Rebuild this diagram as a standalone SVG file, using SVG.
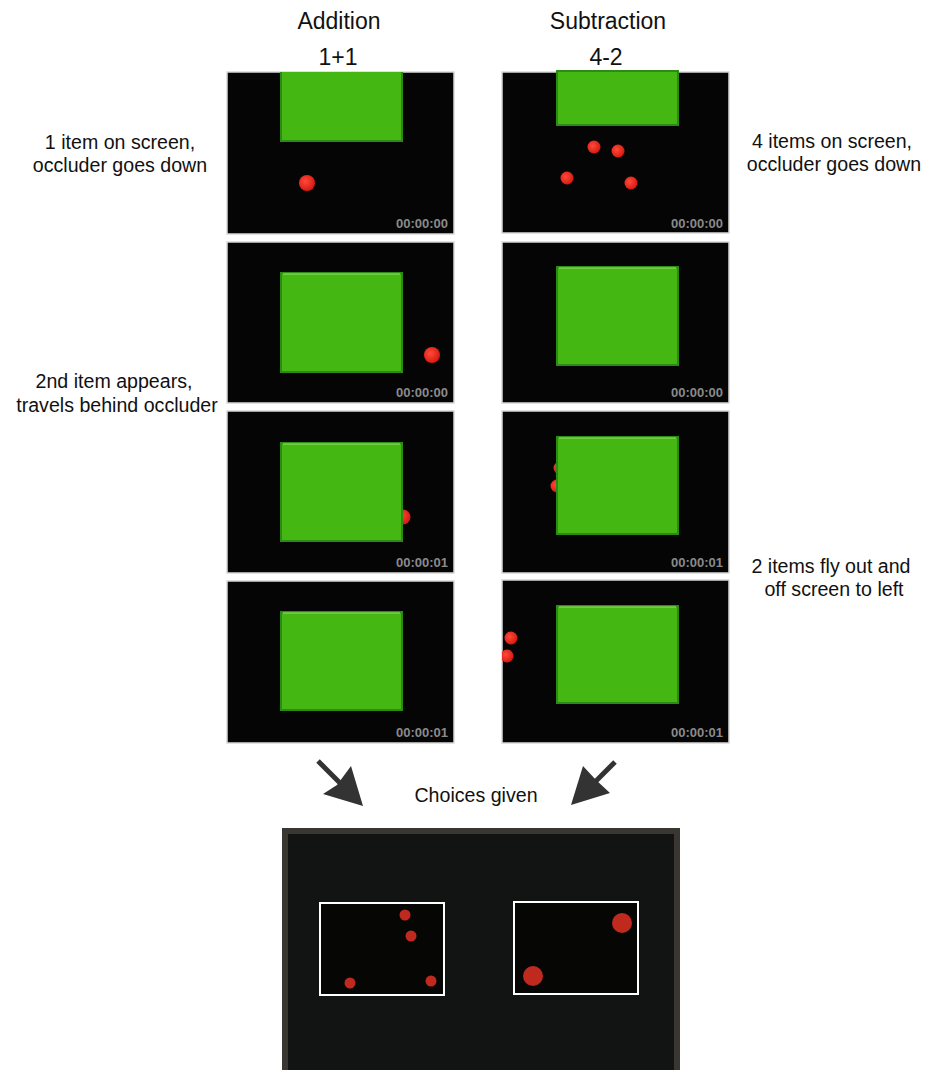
<svg xmlns="http://www.w3.org/2000/svg" width="936" height="1070" viewBox="0 0 936 1070">
  <defs>
    <style>
      .lbl { font-family: "Liberation Sans", Arial, sans-serif; font-size: 19.6px; fill: #111; text-anchor: middle; }
      .head { font-family: "Liberation Sans", Arial, sans-serif; font-size: 23px; fill: #111; text-anchor: middle; }
      .frame { fill: #050505; stroke: #d8d8d8; stroke-width: 1.5; }
      .occ { fill: #44b712; stroke: #2c8a16; stroke-width: 2; }
      .occtop { stroke: #7fd04c; stroke-width: 1.5; }
      .ts { font-family: "Liberation Sans", Arial, sans-serif; font-size: 13px; font-weight: bold; fill: #8a8a8a; text-anchor: end; }
      .pick { fill: #c02a1e; }
      .arrow { stroke: #333; stroke-width: 5; fill: none; }
      .arrowhead { fill: #333; }
    </style>
    <radialGradient id="glow" cx="0.4" cy="0.4" r="0.6">
      <stop offset="0" stop-color="#ff4a3a"/>
      <stop offset="1" stop-color="#d81a10"/>
    </radialGradient>
    <clipPath id="clipL1"><rect x="227" y="72" width="227" height="162"/></clipPath>
    <clipPath id="clipR4"><rect x="502" y="580" width="227" height="163"/></clipPath>
  </defs>

  <rect width="936" height="1070" fill="#ffffff"/>

  <!-- column headings -->
  <text class="head" x="339" y="29">Addition</text>
  <text class="head" x="338" y="65">1+1</text>
  <text class="head" x="608" y="29">Subtraction</text>
  <text class="head" x="606" y="65">4-2</text>

  <!-- side captions -->
  <text class="lbl" x="120" y="149">1 item on screen,</text>
  <text class="lbl" x="120" y="172">occluder goes down</text>
  <text class="lbl" x="114" y="388">2nd item appears,</text>
  <text class="lbl" x="117" y="412">travels behind occluder</text>
  <text class="lbl" x="832" y="148">4 items on screen,</text>
  <text class="lbl" x="834" y="171">occluder goes down</text>
  <text class="lbl" x="831" y="573">2 items fly out and</text>
  <text class="lbl" x="834" y="596">off screen to left</text>

  <!-- addition frames -->
  <g id="add-frame-1">
    <rect class="frame" x="227" y="72" width="227" height="162"/>
    <rect class="occ" x="281" y="71" width="121" height="70" clip-path="url(#clipL1)"/>
    <circle cx="307" cy="183" r="8" fill="url(#glow)"/>
    <text class="ts" x="448" y="228">00:00:00</text>
  </g>
  <g id="add-frame-2">
    <rect class="frame" x="227" y="242" width="227" height="161"/>
    <rect class="occ" x="281" y="273" width="121" height="99"/>
    <line class="occtop" x1="283" y1="274" x2="400" y2="274"/>
    <circle cx="432" cy="355" r="8" fill="url(#glow)"/>
    <text class="ts" x="448" y="397">00:00:00</text>
  </g>
  <g id="add-frame-3">
    <rect class="frame" x="227" y="411" width="227" height="162"/>
    <circle cx="403" cy="517" r="7.5" fill="url(#glow)"/>
    <rect class="occ" x="281" y="443" width="121" height="98"/>
    <line class="occtop" x1="283" y1="444" x2="400" y2="444"/>
    <text class="ts" x="448" y="567">00:00:01</text>
  </g>
  <g id="add-frame-4">
    <rect class="frame" x="227" y="581" width="227" height="162"/>
    <rect class="occ" x="281" y="612" width="121" height="98"/>
    <line class="occtop" x1="283" y1="613" x2="400" y2="613"/>
    <text class="ts" x="448" y="737">00:00:01</text>
  </g>

  <!-- subtraction frames -->
  <g id="sub-frame-1">
    <rect class="frame" x="502" y="72" width="227" height="161"/>
    <rect class="occ" x="557" y="71" width="121" height="54"/>
    <circle cx="594" cy="147" r="6.5" fill="url(#glow)"/>
    <circle cx="618" cy="151" r="6.5" fill="url(#glow)"/>
    <circle cx="567" cy="178" r="6.5" fill="url(#glow)"/>
    <circle cx="631" cy="183" r="6.5" fill="url(#glow)"/>
    <text class="ts" x="723" y="228">00:00:00</text>
  </g>
  <g id="sub-frame-2">
    <rect class="frame" x="502" y="242" width="227" height="161"/>
    <rect class="occ" x="557" y="267" width="121" height="98"/>
    <line class="occtop" x1="559" y1="268" x2="676" y2="268"/>
    <text class="ts" x="723" y="397">00:00:00</text>
  </g>
  <g id="sub-frame-3">
    <rect class="frame" x="502" y="411" width="227" height="162"/>
    <circle cx="560" cy="468" r="6.5" fill="url(#glow)"/>
    <circle cx="557" cy="486" r="6.5" fill="url(#glow)"/>
    <rect class="occ" x="557" y="437" width="121" height="97"/>
    <line class="occtop" x1="559" y1="438" x2="676" y2="438"/>
    <text class="ts" x="723" y="567">00:00:01</text>
  </g>
  <g id="sub-frame-4">
    <rect class="frame" x="502" y="580" width="227" height="163"/>
    <rect class="occ" x="557" y="606" width="121" height="97"/>
    <line class="occtop" x1="559" y1="607" x2="676" y2="607"/>
    <g clip-path="url(#clipR4)">
      <circle cx="511" cy="638" r="6.5" fill="url(#glow)"/>
      <circle cx="507" cy="656" r="6.5" fill="url(#glow)"/>
    </g>
    <text class="ts" x="723" y="737">00:00:01</text>
  </g>

  <!-- connectors -->
  <g id="connectors">
    <line class="arrow" x1="318" y1="761" x2="345" y2="788"/>
    <polygon class="arrowhead" points="363,806 323,794 337,785 351,766"/>
    <line class="arrow" x1="615" y1="762" x2="588" y2="789"/>
    <polygon class="arrowhead" points="571,805 583,766 596,780 610,793"/>
  </g>
  <text class="lbl" x="476" y="802">Choices given</text>

  <!-- choice screen -->
  <g id="choice-screen">
    <rect x="285" y="831" width="392" height="245" fill="#121413" stroke="#3a3631" stroke-width="6"/>
    <g id="choice-left">
      <rect x="320" y="903" width="124" height="92" fill="#060605" stroke="#ffffff" stroke-width="2"/>
      <circle class="pick" cx="405" cy="915" r="5.5"/>
      <circle class="pick" cx="411" cy="936" r="5.5"/>
      <circle class="pick" cx="350" cy="983" r="5.5"/>
      <circle class="pick" cx="431" cy="981" r="5.5"/>
    </g>
    <g id="choice-right">
      <rect x="514" y="902" width="124" height="92" fill="#060605" stroke="#ffffff" stroke-width="2"/>
      <circle class="pick" cx="622" cy="923" r="10"/>
      <circle class="pick" cx="533" cy="976" r="10"/>
    </g>
  </g>
</svg>
